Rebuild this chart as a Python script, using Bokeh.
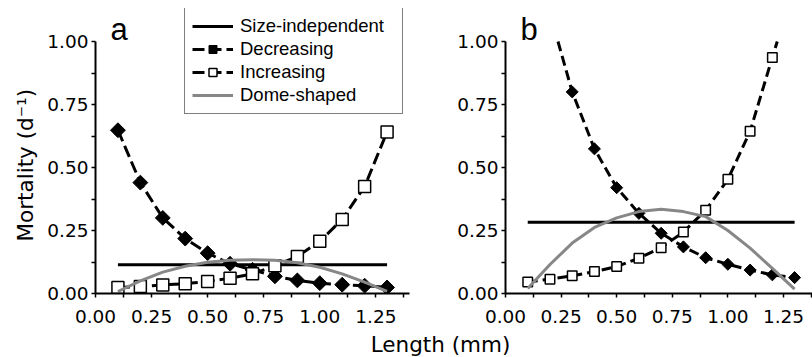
import numpy as np
from bokeh.plotting import figure
from bokeh.models import FixedTicker, Label, Legend, LegendItem, Range1d
from bokeh.layouts import row, column
from bokeh.embed import file_html
from bokeh.resources import INLINE

# ---------------- data ----------------
length = [0.1, 0.2, 0.3, 0.4, 0.5, 0.6, 0.7, 0.8, 0.9, 1.0, 1.1, 1.2, 1.3]

a_size_independent = 0.114
a_decreasing = [0.648, 0.44, 0.30, 0.218, 0.16, 0.118, 0.094, 0.068, 0.052, 0.041, 0.035, 0.031, 0.024]
a_increasing = [0.024, 0.028, 0.034, 0.039, 0.048, 0.061, 0.078, 0.11, 0.147, 0.207, 0.294, 0.425, 0.641]
a_dome = [0.008, 0.05, 0.085, 0.108, 0.124, 0.132, 0.134, 0.132, 0.122, 0.104, 0.078, 0.045, 0.008]

b_size_independent = 0.283
b_dec_length = [0.3, 0.4, 0.5, 0.6, 0.7, 0.8, 0.9, 1.0, 1.1, 1.2, 1.3]
b_decreasing = [0.80, 0.574, 0.42, 0.318, 0.239, 0.185, 0.142, 0.116, 0.093, 0.074, 0.063]
b_dec_enters_top_at = 0.236     # length where the curve comes in at mortality 1.00
b_inc_length = [0.1, 0.2, 0.3, 0.4, 0.5, 0.6, 0.7, 0.8, 0.9, 1.0, 1.1, 1.2]
b_increasing = [0.046, 0.057, 0.07, 0.087, 0.107, 0.14, 0.182, 0.244, 0.33, 0.453, 0.644, 0.937]
b_inc_leaves_top_at = 1.222     # length where the curve leaves at mortality 1.00
b_dome = [0.02, 0.115, 0.2, 0.262, 0.30, 0.325, 0.334, 0.325, 0.305, 0.25, 0.18, 0.1, 0.017]

x_ticks = [0.0, 0.25, 0.5, 0.75, 1.0, 1.25]
x_tick_labels = ["0.00", "0.25", "0.50", "0.75", "1.00", "1.25"]
x_minor = [0.125, 0.375, 0.625, 0.875, 1.125, 1.375]
y_ticks = [0.0, 0.25, 0.5, 0.75, 1.0]
y_tick_labels = ["0.00", "0.25", "0.50", "0.75", "1.00"]
y_minor = [0.125, 0.375, 0.625, 0.875]
y_max = 1.0

series_names = ["Size-independent", "Decreasing", "Increasing", "Dome-shaped"]
panel_letters = ["a", "b"]
x_label = "Length (mm)"
y_label = "Mortality (d\u207b\u00b9)"

GRAY = "#878787"
TICK_FONT = "DejaVu Sans"
TEXT_FONT = "Liberation Sans"

ROW_H = 331
FRAME_TOP = 8
FRAME_H = 285
BOTTOM = ROW_H - FRAME_TOP - FRAME_H
YLAB_W = 44


def style_axes(p):
    p.xaxis.ticker = FixedTicker(ticks=x_ticks, minor_ticks=x_minor)
    p.yaxis.ticker = FixedTicker(ticks=y_ticks, minor_ticks=y_minor)
    p.xaxis.major_label_overrides = dict(zip(x_ticks, x_tick_labels))
    p.yaxis.major_label_overrides = dict(zip(y_ticks, y_tick_labels))
    p.yaxis.bounds = (0, y_max)
    for ax in (p.xaxis, p.yaxis):
        ax.axis_line_width = 2
        ax.axis_line_color = "black"
        ax.major_tick_line_width = 1.5
        ax.minor_tick_line_width = 1.5
        ax.major_tick_in = 0
        ax.major_tick_out = 4
        ax.minor_tick_in = 0
        ax.minor_tick_out = 4
        ax.major_label_text_font = TICK_FONT
        ax.major_label_text_font_size = "18.5px"
        ax.major_label_text_color = "black"
    p.xaxis.major_label_standoff = 12
    p.yaxis.major_label_standoff = 3
    p.grid.visible = False
    p.outline_line_color = None


def make_panel(frame_w, x_end, left, right, y_end):
    p = figure(frame_width=frame_w, frame_height=FRAME_H,
               min_border_left=left, min_border_right=right,
               min_border_top=FRAME_TOP, min_border_bottom=BOTTOM,
               x_range=Range1d(0, x_end), y_range=Range1d(0, y_end),
               toolbar_location=None, output_backend="svg")
    style_axes(p)
    return p


def add_letter(p, letter):
    p.add_layout(Label(x=15, y=264, x_units="screen", y_units="screen", text=letter,
                       text_font=TEXT_FONT, text_font_size="31px", text_color="black",
                       text_baseline="middle", text_align="left"))


def blank_figure(w, h):
    f = figure(width=w, height=h, x_range=Range1d(0, w), y_range=Range1d(0, h),
               min_border=0, x_axis_location=None, y_axis_location=None,
               toolbar_location=None, output_backend="svg")
    f.grid.visible = False
    f.outline_line_color = None
    return f


# ---------------- panel a ----------------
pa = make_panel(314, 1.4, 94 - YLAB_W, 22, 1.131)
r_si = pa.line(length, [a_size_independent] * len(length), line_color="black", line_width=3)
r_dec_l = pa.line(length, a_decreasing, line_color="black", line_width=3, line_dash="12 5")
r_dec_m = pa.scatter(length, a_decreasing, marker="square", angle=np.pi / 4, size=10.5,
                     fill_color="black", line_color="black")
r_inc_l = pa.line(length, a_increasing, line_color="black", line_width=3, line_dash="12 5")
r_inc_m = pa.scatter(length, a_increasing, marker="square", size=12,
                     fill_color="white", line_color="black", line_width=1.5)
r_dome = pa.line(length, a_dome, line_color=GRAY, line_width=3)
add_letter(pa, panel_letters[0])

legend = Legend(items=[
    LegendItem(label=series_names[0], renderers=[r_si]),
    LegendItem(label=series_names[1], renderers=[r_dec_l, r_dec_m]),
    LegendItem(label=series_names[2], renderers=[r_inc_l, r_inc_m]),
    LegendItem(label=series_names[3], renderers=[r_dome]),
], location=(89, 179))
legend.label_text_font = TEXT_FONT
legend.label_text_font_size = "18.5px"
legend.label_text_color = "black"
legend.glyph_width = 41
legend.glyph_height = 20
legend.label_height = 20
legend.label_width = 155
legend.label_standoff = 7
legend.padding = 7
legend.spacing = 1
legend.margin = 0
legend.border_line_color = "black"
legend.border_line_width = 1.5
legend.background_fill_alpha = 1
pa.add_layout(legend, "center")

# ---------------- panel b ----------------
pb = make_panel(308, 1.385, 74, 0, 1.131)
pb.line(length, [b_size_independent] * len(length), line_color="black", line_width=3)
pb.line([b_dec_enters_top_at] + b_dec_length, [y_max] + b_decreasing,
        line_color="black", line_width=3, line_dash="10 5")
pb.scatter(b_dec_length, b_decreasing, marker="square", angle=np.pi / 4, size=8.5,
           fill_color="black", line_color="black")
pb.line(b_inc_length + [b_inc_leaves_top_at], b_increasing + [y_max],
        line_color="black", line_width=3, line_dash="10 5")
pb.scatter(b_inc_length, b_increasing, marker="square", size=9.5,
           fill_color="white", line_color="black", line_width=1.5)
pb.line(length, b_dome, line_color=GRAY, line_width=3)
add_letter(pb, panel_letters[1])

# ---------------- shared axis titles ----------------
py = blank_figure(YLAB_W, ROW_H)
py.add_layout(Label(x=25, y=ROW_H - 182, text=y_label, angle=np.pi / 2,
                    text_font=TICK_FONT, text_font_size="21.5px", text_color="black",
                    text_align="center", text_baseline="middle"))

LAB_H = 357 - ROW_H
pl = blank_figure(812, LAB_H)
pl.add_layout(Label(x=440, y=LAB_H / 2, text=x_label,
                    text_font=TICK_FONT, text_font_size="21.5px", text_color="black",
                    text_align="center", text_baseline="middle"))

layout = column(row(py, pa, pb), pl)
open("out.html", "w").write(file_html(layout, INLINE))
